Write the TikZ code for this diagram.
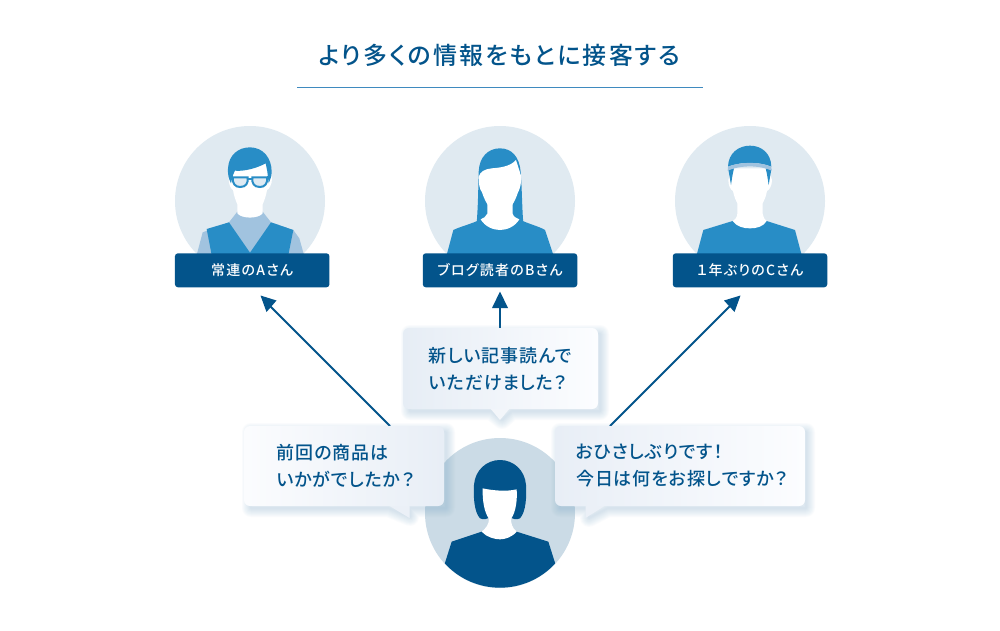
\documentclass[tikz,border=0pt]{standalone}
\usepackage{fontspec}
\newfontfamily\cjk{Noto Sans CJK JP Medium}[RawFeature=+palt,LetterSpace=9]
\newfontfamily\cjkbub{Noto Sans CJK JP Medium}[RawFeature=+palt,LetterSpace=5]
\newfontfamily\cjkwide{Noto Sans CJK JP Medium}[RawFeature=+palt,LetterSpace=9]
\definecolor{dark}{HTML}{03548B}
\definecolor{mid}{HTML}{288DC6}
\definecolor{pale}{HTML}{A1C3DF}
\definecolor{ring}{HTML}{E0EAF1}
\definecolor{ringdark}{HTML}{CBDBE6}
\definecolor{shc}{HTML}{6F9EC2}
\definecolor{rulec}{HTML}{3F8ABF}
\definecolor{bubA}{HTML}{FBFCFE}
\definecolor{bubB}{HTML}{E8EEF6}
\definecolor{bubC}{HTML}{E6EDF5}
\definecolor{bubD}{HTML}{FCFDFF}
\definecolor{tailL}{HTML}{EBF0F7}
\definecolor{tailM}{HTML}{F3F6FA}
\definecolor{tailR}{HTML}{EBF0F7}
\tikzset{
  x=1pt,y=-1pt,
  namebox/.style={rectangle,fill=dark,rounded corners=3pt,minimum width=154.5pt,minimum height=34pt,inner sep=0pt,text=white,font=\cjk\fontsize{14}{16}\selectfont},
  bubble/.style={rectangle,rounded corners=6pt,inner sep=0pt,text=dark,align=left,font=\cjkbub\fontsize{18}{27}\selectfont},
  arr/.style={draw=dark,line width=2pt},
  tipfill/.style={fill=dark},
  shline/.style={draw=shc,line join=round,opacity=.03},
}
\newcommand{\softshadow}[1]{%
  \foreach \w in {2,4,6,8,10,12,14,16,18}{\path[shline,line width=\w pt] #1;}}
\begin{document}
\begin{tikzpicture}
\useasboundingbox (0,0) rectangle (1000,630);
\fill[white] (0,0) rectangle (1000,630);
% title
\node[text=dark,font=\cjkwide\fontsize{24}{26}\selectfont,inner sep=0pt] (title) at (499.5,55) {より多くの情報をもとに接客する};
\coordinate (ruleL) at (297,87.5);
\coordinate (ruleR) at (703,87.5);
\draw[rulec,line width=1pt] (ruleL) -- (ruleR);

% circles
\fill[ring] (250,201) circle (75) ;
\fill[ring] (500,201) circle (75) ;
\fill[ring] (750,201) circle (75) ;

% person A
\begin{scope}[xshift=160pt,yshift=-115pt,x=0.33333pt,y=-0.33333pt]
\fill[pale] (110,420) -- (128,352) -- (207,322) -- (232,290) -- (308,290) -- (333,322) -- (400,345) -- (418,370) -- (432,420) -- cycle;
\fill[mid] (140,342) -- (207,322) -- (270,413) -- (333,322) -- (400,345) -- (385,420) -- (155,420) -- cycle;
\fill[white] (206,190) .. controls (206,210) and (213,222) .. (219,225) .. controls (222,245) and (228,258) .. (232,268) -- (232,295) .. controls (245,312) and (295,312) .. (308,295) -- (308,268) .. controls (312,258) and (318,245) .. (321,225) .. controls (327,222) and (336,210) .. (336,190) -- (325,140) -- (215,145) -- cycle;
\fill[mid] (213,205) .. controls (205,190) and (203,175) .. (204,160) .. controls (206,120) and (235,97) .. (270,97) .. controls (310,97) and (335,130) .. (335,170) .. controls (335,185) and (330,195) .. (326,205) -- (322,170) -- (317,145) .. controls (290,160) and (250,170) .. (225,167) .. controls (220,175) and (216,190) .. (213,205) -- cycle;
\draw[mid,line width=2pt,fill=pale,fill opacity=.35] (218,187) -- (263,187) .. controls (265,205) and (258,216) .. (240,216) .. controls (225,216) and (217,205) .. (218,187) -- cycle;
\draw[mid,line width=2pt,fill=pale,fill opacity=.35] (277,187) -- (322,187) .. controls (323,205) and (315,216) .. (300,216) .. controls (282,216) and (275,205) .. (277,187) -- cycle;
\draw[mid,line width=2pt] (263,192) -- (277,192) (208,187) -- (218,187) (322,187) -- (332,187);
\end{scope}

% person B
\begin{scope}[xshift=410pt,yshift=-115pt,x=0.33333pt,y=-0.33333pt]
\fill[mid] (200,325) .. controls (205,260) and (205,200) .. (206,170) .. controls (208,125) and (235,100) .. (270,100) .. controls (305,100) and (328,125) .. (332,170) .. controls (336,220) and (336,280) .. (340,325) -- cycle;
\fill[mid] (110,420) -- (130,345) .. controls (150,335) and (190,325) .. (212,313) -- (328,313) .. controls (350,325) and (390,335) .. (405,345) -- (430,420) -- cycle;
\fill[white] (232,245) -- (232,296) .. controls (228,305) and (220,310) .. (212,313) .. controls (225,335) and (250,345) .. (270,345) .. controls (290,345) and (315,335) .. (328,313) .. controls (320,310) and (310,305) .. (308,296) -- (308,245) -- cycle;
\fill[white] (206,185) .. controls (206,205) and (208,222) .. (216,232) .. controls (222,250) and (228,262) .. (235,272) -- (305,272) .. controls (312,262) and (318,250) .. (324,232) .. controls (330,222) and (334,205) .. (334,185) -- (318,135) .. controls (300,155) and (270,158) .. (245,160) .. controls (225,162) and (210,170) .. (206,185) -- cycle;
\end{scope}

% person C
\begin{scope}[xshift=660pt,yshift=-115pt,x=0.33333pt,y=-0.33333pt]
\fill[mid] (110,420) -- (130,345) -- (218,318) -- (320,318) -- (405,345) -- (425,420) -- cycle;
\fill[white] (232,262) -- (232,296) .. controls (232,305) and (225,315) .. (218,318) .. controls (230,335) and (250,340) .. (270,340) .. controls (290,340) and (310,335) .. (320,318) .. controls (315,315) and (308,305) .. (308,296) -- (308,262) -- cycle;
\fill[white] (205,195) .. controls (205,212) and (212,225) .. (219,228) .. controls (222,245) and (228,258) .. (233,266) -- (307,266) .. controls (312,258) and (318,245) .. (321,228) .. controls (328,225) and (336,212) .. (336,195) -- (325,160) -- (215,160) -- cycle;
\fill[mid] (205,163) -- (213,210) .. controls (216,190) and (218,175) .. (222,160) -- cycle;
\fill[mid] (334,163) -- (326,210) .. controls (323,190) and (321,175) .. (317,160) -- cycle;
\fill[mid] (204,155) .. controls (205,115) and (235,92) .. (270,92) .. controls (305,92) and (333,115) .. (334,155) .. controls (300,140) and (240,140) .. (204,155) -- cycle;
\fill[pale] (204,155) .. controls (240,140) and (300,140) .. (334,155) -- (335,167) .. controls (300,150) and (240,150) .. (203,167) -- cycle;
\end{scope}

% name boxes
\node[namebox] (labA) at (252.2,270.3) {常連のAさん};
\node[namebox] (labB) at (500,270.3) {ブログ読者のBさん};
\node[namebox] (labC) at (750,270.3) {１年ぶりのCさん};

% arrow ends
\coordinate (startA) at (390,426);
\coordinate (headA) at (270,306);
\coordinate (startB) at (500,329);
\coordinate (headB) at (500,305);
\coordinate (startC) at (610,426);
\coordinate (headC) at (730,306);
\draw[arr] (startA) -- (headA);
\fill[tipfill] (260.5,295.5) -- (266.5,312) -- (276.5,300.5) -- cycle;
\draw[arr] (startB) -- (headB);
\fill[tipfill] (500,291.5) -- (492,308) -- (508,308) -- cycle;
\draw[arr] (startC) -- (headC);
\fill[tipfill] (740.5,295.5) -- (734.5,312) -- (724,300.5) -- cycle;

% customer-service person
\fill[ringdark] (500,513) circle (75);
\begin{scope}[xshift=400pt,yshift=-400pt,x=0.33333pt,y=-0.33333pt]
\begin{scope}
\clip (300,338) circle (225);
\fill[dark] (125,520) -- (155,425) -- (245,395) -- (350,395) -- (445,425) -- (475,520) -- (475,580) -- (125,580) -- cycle;
\end{scope}
\fill[dark] (240,355) .. controls (222,335) and (220,290) .. (222,255) .. controls (225,210) and (260,180) .. (300,180) .. controls (340,180) and (375,210) .. (378,255) .. controls (380,290) and (378,335) .. (360,355) .. controls (350,360) and (338,358) .. (330,350) -- (270,350) .. controls (262,358) and (250,360) .. (240,355) -- cycle;
\fill[white] (248,265) .. controls (280,272) and (320,275) .. (350,268) .. controls (352,300) and (348,335) .. (333,357) .. controls (333,370) and (337,385) .. (350,395) .. controls (335,412) and (315,418) .. (300,418) .. controls (285,418) and (260,412) .. (245,395) .. controls (258,385) and (267,372) .. (267,357) .. controls (252,335) and (247,300) .. (248,265) -- cycle;
\end{scope}

% bubbles: shadows
\softshadow{(410,517) -- (388,508) -- (251,508) -- (251,432) -- (446,432) -- (446,508) -- (410,508) -- cycle}
\softshadow{(502,420) -- (491,411) -- (410,411) -- (410,334) -- (600,334) -- (600,411) -- (512,411) -- cycle}
\softshadow{(589,518) -- (589,508) -- (560,508) -- (560,432) -- (806,432) -- (806,508) -- (608,508) -- cycle}

% tails
\coordinate (tailLa) at (388,505);
\coordinate (tailLb) at (409.5,505);
\coordinate (tailLt) at (409.5,518);
\fill[tailL] (tailLa) -- (tailLb) -- (tailLt) -- cycle;
\coordinate (tailMa) at (490,408);
\coordinate (tailMb) at (510,408);
\coordinate (tailMt) at (500,420);
\fill[tailM] (tailMa) -- (tailMb) -- (tailMt) -- cycle;
\coordinate (tailRa) at (585.5,505);
\coordinate (tailRb) at (606,505);
\coordinate (tailRt) at (585.5,518);
\fill[tailR] (tailRa) -- (tailRb) -- (tailRt) -- cycle;

% bubbles
\node[bubble,left color=bubA,right color=bubB,minimum width=200pt,minimum height=80pt] (bubL) at (344,466) {\hspace*{3pt}前回の商品は\\\hspace*{3pt}いかがでしたか？};
\node[bubble,left color=bubC,right color=bubD,minimum width=195pt,minimum height=81pt] (bubM) at (500.5,368.5) {新しい記事読んで\\いただけました？};
\node[bubble,left color=bubB,right color=bubD,minimum width=250pt,minimum height=80pt] (bubR) at (680,466) {\hspace*{4pt}おひさしぶりです！\\\hspace*{4pt}今日は何をお探しですか？};
\end{tikzpicture}
\end{document}
